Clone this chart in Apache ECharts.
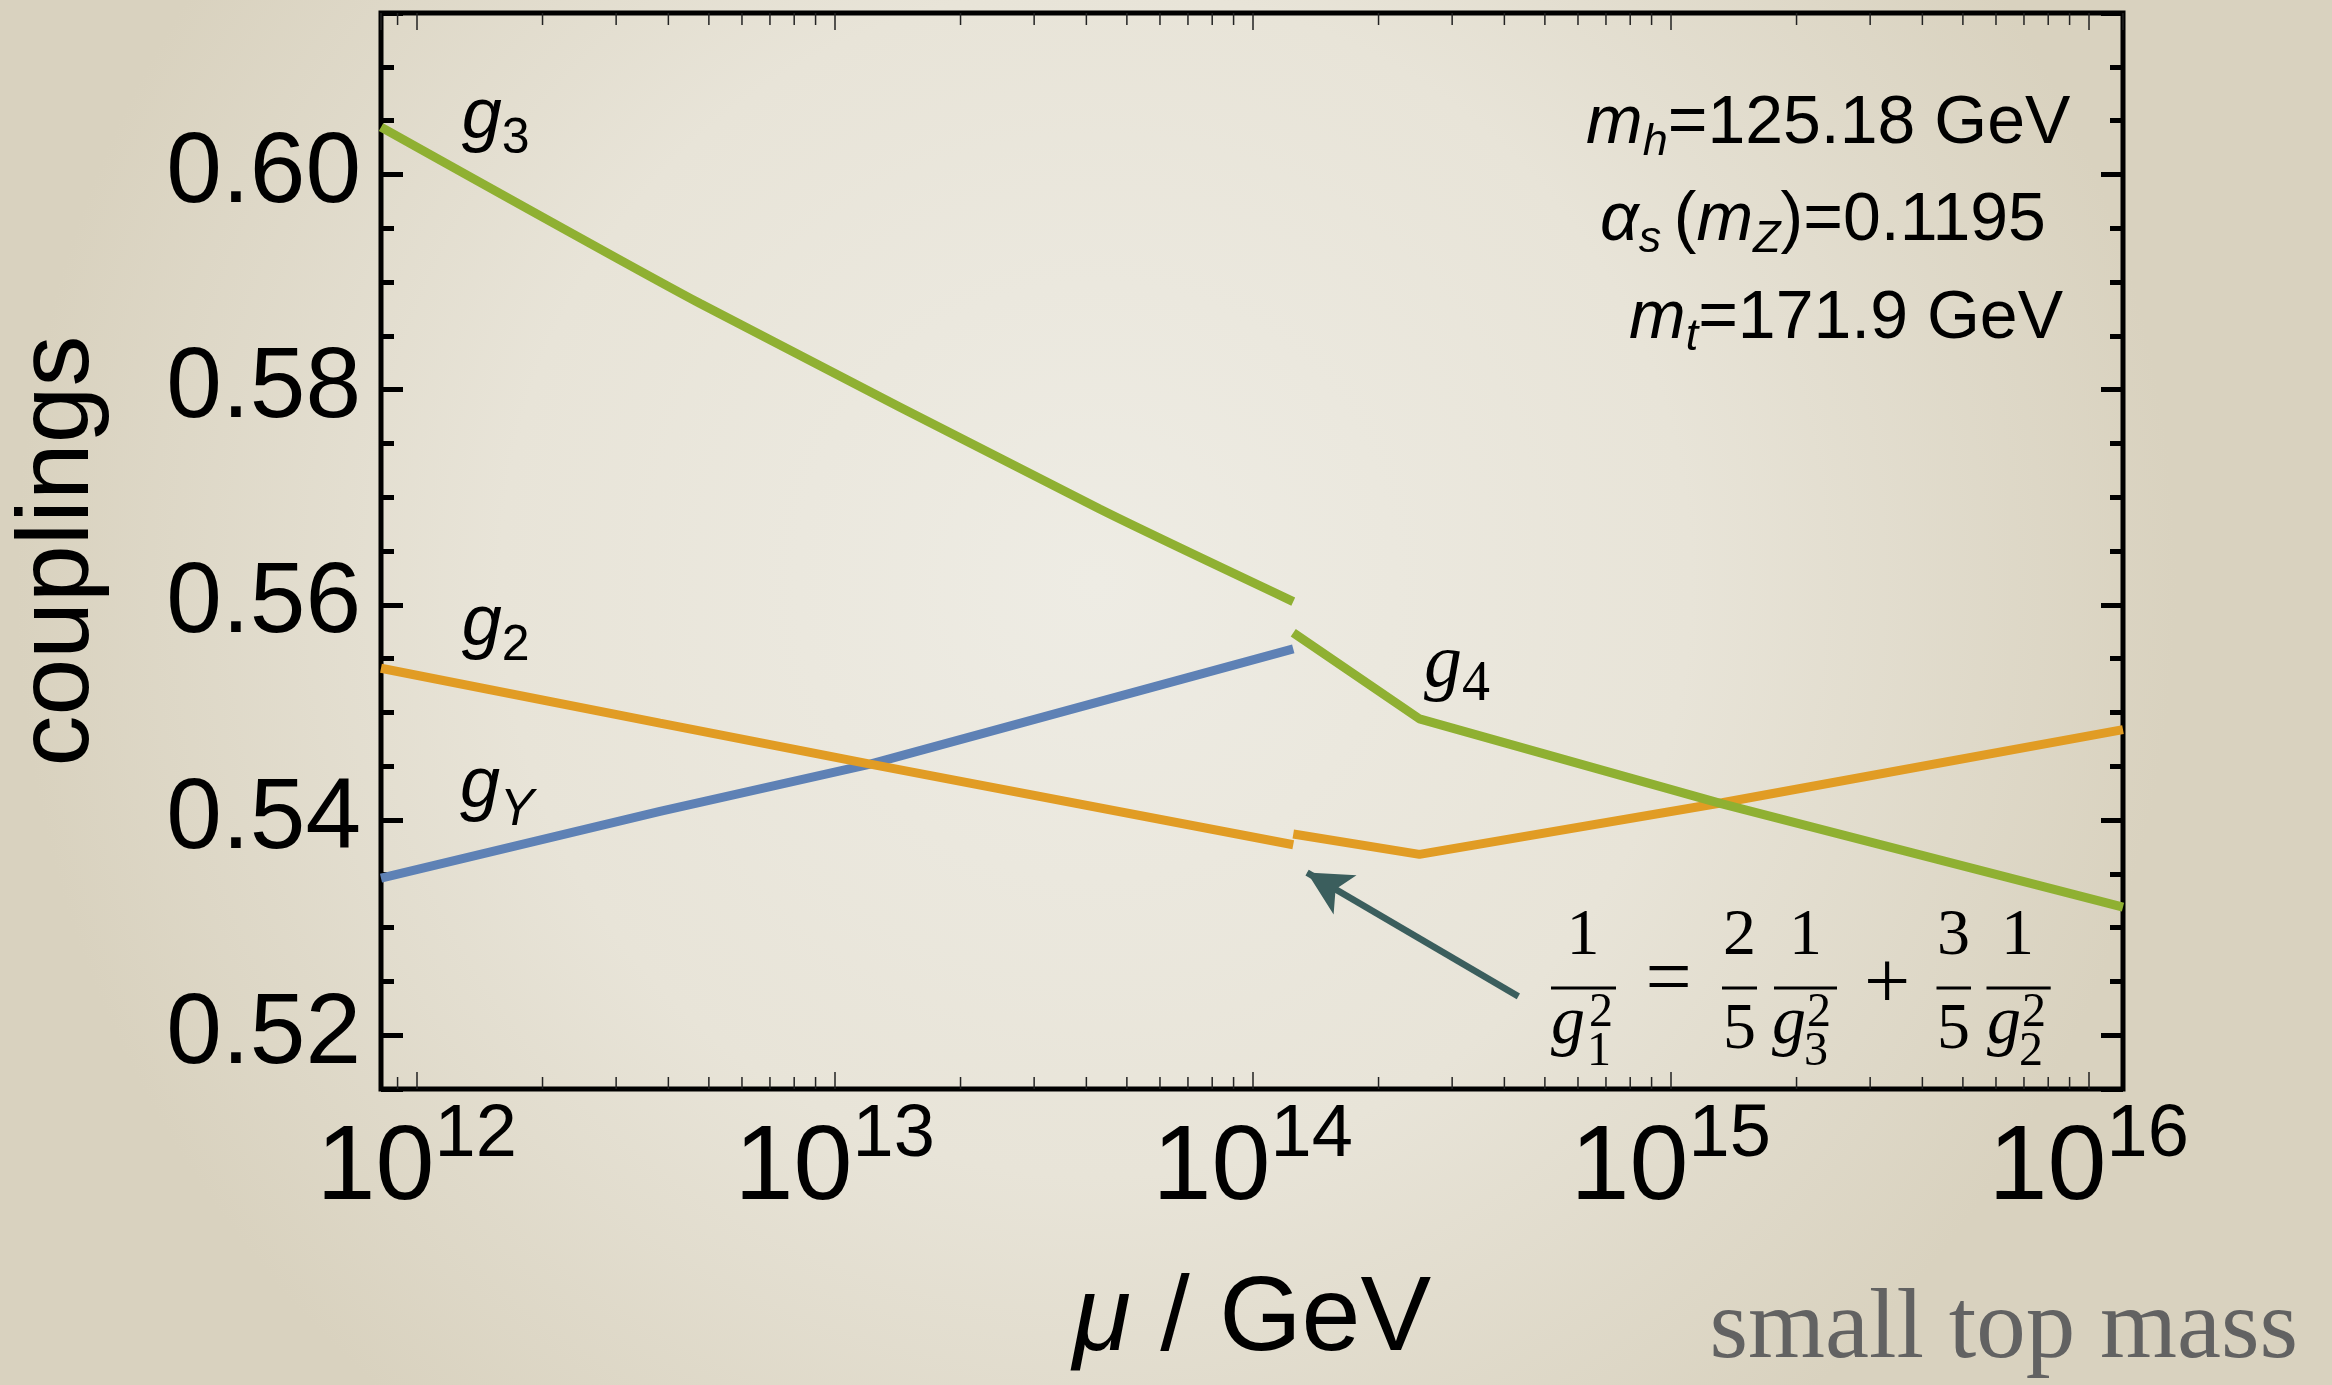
<!DOCTYPE html>
<html>
<head>
<meta charset="utf-8">
<script src="https://cdn.jsdelivr.net/npm/echarts@6/dist/echarts.min.js"></script>
<style>
  html, body { margin: 0; padding: 0; }
  #chart { width: 2332px; height: 1385px; }
</style>
</head>
<body>
<div id="chart"></div>
<script>
// Running gauge couplings between 10^12 and 10^16 GeV (x values are log10(mu / GeV)).
const log10MuGY = [11.9146, 12.582, 13.085, 14.097];
const gY = [0.5346, 0.5408, 0.5452, 0.5559];

const log10MuG2 = [11.9146, 12.582, 13.085, 14.097];
const g2 = [0.5541, 0.5490, 0.5452, 0.5377];
const log10MuG2High = [14.097, 14.399, 15.123, 16.082];
const g2High = [0.5387, 0.5368, 0.5416, 0.5484];

const log10MuG3 = [11.9146, 12.678, 13.634, 14.097];
const g3 = [0.6044, 0.5880, 0.5689, 0.5603];
const log10MuG4 = [14.097, 14.399, 15.123, 16.082];
const g4 = [0.5574, 0.5494, 0.5415, 0.5319];

// axis ranges and decade ticks
const xRange = [11.9146, 16.082];
const yRange = [0.515, 0.615];
const decadeExponents = [11, 12, 13, 14, 15, 16];
const minorFactors = [2, 3, 4, 5, 6, 7, 8, 9];

const SANS = '"Liberation Sans", Arial, Helvetica, sans-serif';
const NARROW = '"Liberation Sans Narrow", "Liberation Sans", Arial, sans-serif';
const SERIF = '"Liberation Serif", "DejaVu Serif", "Times New Roman", serif';

const BLUE = '#5E81B5';
const ORANGE = '#E19C24';
const GREEN = '#8FB032';
const ARROW = '#3B5E5D';
const LINE_W = 9;

const pairs = (xs, ys) => xs.map((x, i) => [x, ys[i]]);

// logarithmic minor tick positions (2..9 x 10^n) inside the x range
const minorTickPositions = [];
decadeExponents.forEach(e => minorFactors.forEach(k => {
  const v = e + Math.log10(k);
  if (v > xRange[0] && v < xRange[1]) minorTickPositions.push(v);
}));

function glyph(text, x, baseline, size, opt) {
  opt = opt || {};
  return {
    type: 'text', x: x, y: baseline - 0.34 * size, silent: true,
    style: {
      text: text,
      font: (opt.italic ? 'italic ' : '') + size + 'px ' + (opt.family || SERIF),
      fill: opt.fill || '#000',
      align: opt.align || 'left',
      verticalAlign: 'middle'
    }
  };
}
function fracBar(x1, x2, y) {
  return { type: 'line', silent: true, shape: { x1: x1, y1: y, x2: x2, y2: y }, style: { stroke: '#000', lineWidth: 3 } };
}
// symbol with subscript as rich text (main glyph italic)
function subLabel(x, baseline, main, sub, opt) {
  const fam = opt.family;
  const F = opt.size, Fs = opt.subSize;
  return {
    type: 'text', x: x, y: baseline - 0.3465 * F, silent: true,
    style: {
      text: '{m|' + main + '}{s|' + sub + '}',
      verticalAlign: 'middle', align: 'left',
      rich: {
        m: { fontFamily: fam, fontStyle: 'italic', fontSize: F, lineHeight: opt.lineHeight, fill: '#000', color: '#000' },
        s: { fontFamily: fam, fontStyle: opt.subItalic ? 'italic' : 'normal', fontSize: Fs, verticalAlign: 'bottom', fill: '#000', color: '#000' }
      }
    }
  };
}
function paramLine(x, baseline, text) {
  return {
    type: 'text', x: x, y: baseline - 0.3465 * 68, silent: true,
    style: {
      text: text, verticalAlign: 'middle', align: 'left',
      rich: {
        i: { fontFamily: SANS, fontStyle: 'italic', fontSize: 68, lineHeight: 82, fill: '#000', color: '#000' },
        r: { fontFamily: SANS, fontSize: 68, lineHeight: 82, fill: '#000', color: '#000' },
        s: { fontFamily: SANS, fontStyle: 'italic', fontSize: 45, verticalAlign: 'bottom', fill: '#000', color: '#000' }
      }
    }
  };
}

const chart = echarts.init(document.getElementById('chart'), null, { renderer: 'canvas' });

const lineBase = { type: 'line', showSymbol: false, symbol: 'none', smooth: false, clip: true, silent: true };

chart.setOption({
  animation: false,
  backgroundColor: {
    type: 'radial', x: 0.47, y: 0.42, r: 0.78,
    colorStops: [
      { offset: 0, color: '#EEECE4' },
      { offset: 0.55, color: '#E8E4D8' },
      { offset: 1, color: '#D9D2BF' }
    ]
  },
  grid: {
    left: 381, top: 13, width: 1742, height: 1076,
    show: true, borderColor: '#000', borderWidth: 5, backgroundColor: 'transparent',
    containLabel: false
  },
  xAxis: [
    {
      type: 'value', position: 'bottom', min: xRange[0], max: xRange[1], splitNumber: 4,
      axisLine: { show: false },
      splitLine: { show: false },
      axisTick: { show: true, inside: true, length: 17, lineStyle: { color: '#222', width: 1.5 } },
      axisLabel: {
        show: true, margin: 10, showMinLabel: false, showMaxLabel: false,
        formatter: v => (Math.abs(v - Math.round(v)) < 1e-6 ? '{b|10}{s|' + Math.round(v) + '}' : ''),
        rich: {
          b: { fontFamily: NARROW, fontSize: 106, lineHeight: 141, color: '#000' },
          s: { fontFamily: NARROW, fontSize: 74, verticalAlign: 'top', color: '#000' }
        }
      },
      name: '{i|μ} / GeV', nameLocation: 'middle', nameGap: 179, nameMoveOverlap: false,
      nameTextStyle: {
        fontFamily: SANS, fontSize: 106, color: '#000',
        rich: { i: { fontFamily: SANS, fontSize: 106, fontStyle: 'italic', color: '#000' } }
      }
    },
    {
      type: 'value', position: 'top', min: xRange[0], max: xRange[1], splitNumber: 4,
      axisLine: { show: false }, splitLine: { show: false }, axisLabel: { show: false },
      axisTick: { show: true, inside: true, length: 17, lineStyle: { color: '#222', width: 1.5 } }
    }
  ],
  yAxis: [
    {
      type: 'value', position: 'left', min: yRange[0], max: yRange[1], splitNumber: 5,
      axisLine: { show: false }, splitLine: { show: false },
      axisTick: { show: true, inside: true, length: 22, lineStyle: { color: '#000', width: 5 } },
      minorTick: { show: true, splitNumber: 4, length: 13, lineStyle: { color: '#000', width: 5 } },
      axisLabel: {
        show: true, margin: 20, showMinLabel: false, showMaxLabel: false,
        formatter: v => v.toFixed(2),
        fontFamily: SANS, fontSize: 100, color: '#000'
      },
      name: 'couplings', nameLocation: 'middle', nameGap: 270, nameRotate: 90, nameMoveOverlap: false,
      nameTextStyle: { fontFamily: SANS, fontSize: 102, color: '#000' }
    },
    {
      type: 'value', position: 'right', min: yRange[0], max: yRange[1], splitNumber: 5,
      axisLine: { show: false }, splitLine: { show: false }, axisLabel: { show: false },
      axisTick: { show: true, inside: true, length: 22, lineStyle: { color: '#000', width: 5 } },
      minorTick: { show: true, splitNumber: 4, length: 13, lineStyle: { color: '#000', width: 5 } }
    }
  ],
  series: [
    Object.assign({}, lineBase, {
      name: 'gY', data: pairs(log10MuGY, gY),
      lineStyle: { color: BLUE, width: LINE_W, cap: 'butt' }
    }),
    Object.assign({}, lineBase, {
      name: 'g2', data: pairs(log10MuG2, g2).concat([['-', '-']], pairs(log10MuG2High, g2High)),
      connectNulls: false,
      lineStyle: { color: ORANGE, width: LINE_W, cap: 'butt' },
      markLine: {
        silent: true, animation: false,
        symbol: ['none', 'arrow'], symbolSize: [34, 44],
        lineStyle: { color: ARROW, width: 6.5, type: 'solid' },
        label: { show: false },
        emphasis: { disabled: true },
        data: [[{ coord: [14.6355, 0.52361] }, { coord: [14.1301, 0.53511] }]]
      }
    }),
    Object.assign({}, lineBase, {
      name: 'g3', data: pairs(log10MuG3, g3), smooth: 0.2,
      lineStyle: { color: GREEN, width: LINE_W, cap: 'butt' }
    }),
    Object.assign({}, lineBase, {
      name: 'g4', data: pairs(log10MuG4, g4),
      lineStyle: { color: GREEN, width: LINE_W, cap: 'butt' }
    }),
    {
      type: 'custom', name: 'minorTicks', silent: true, clip: false, z: 4,
      xAxisIndex: 0, yAxisIndex: 0,
      data: minorTickPositions.map(v => [v, yRange[0]]),
      encode: { x: 0, y: 1 },
      renderItem: function (params, api) {
        const cs = params.coordSys;
        const px = api.coord([api.value(0), api.value(1)])[0];
        const yb = cs.y + cs.height, yt = cs.y;
        return {
          type: 'group',
          children: [
            { type: 'line', shape: { x1: px, y1: yb, x2: px, y2: yb - 12 }, style: { stroke: '#222', lineWidth: 1.5 } },
            { type: 'line', shape: { x1: px, y1: yt, x2: px, y2: yt + 12 }, style: { stroke: '#222', lineWidth: 1.5 } }
          ]
        };
      }
    }
  ],
  graphic: [
    // curve labels
    subLabel(461.7, 143, 'g', '3', { family: SANS, size: 72, subSize: 50, lineHeight: 92 }),
    subLabel(461.7, 650, 'g', '2', { family: SANS, size: 72, subSize: 50, lineHeight: 92 }),
    subLabel(460, 812, 'g', 'Y', { family: SANS, size: 72, subSize: 51, lineHeight: 98, subItalic: true }),
    subLabel(1424, 692, 'g', '4', { family: SERIF, size: 76, subSize: 56, lineHeight: 96 }),
    // parameter block
    paramLine(1586, 148, '{i|m}{s|h}{r|=125.18 GeV}'),
    paramLine(1600, 245, '{i|α}{s|s }{r|(}{i|m}{s|Z}{r|)=0.1195}'),
    paramLine(1629, 343, '{i|m}{s|t}{r|=171.9 GeV}'),
    // 1/g1^2 = 2/5 1/g3^2 + 3/5 1/g2^2
    {
      type: 'group', silent: true,
      children: [
        glyph('1', 1583, 959, 66, { align: 'center' }),
        fracBar(1551, 1616, 988),
        glyph('g', 1551, 1048, 68, { italic: true }),
        glyph('1', 1587, 1069, 48),
        glyph('2', 1589, 1030, 48),
        glyph('=', 1668.7, 1010, 82, { align: 'center' }),
        glyph('2', 1739.5, 959, 66, { align: 'center' }),
        fracBar(1722, 1757, 988),
        glyph('5', 1739.5, 1053, 66, { align: 'center' }),
        glyph('1', 1805.5, 959, 66, { align: 'center' }),
        fracBar(1774, 1837, 988),
        glyph('g', 1772, 1048, 68, { italic: true }),
        glyph('3', 1804, 1069, 48),
        glyph('2', 1807, 1030, 48),
        glyph('+', 1887, 1014, 82, { align: 'center' }),
        glyph('3', 1953.5, 959, 66, { align: 'center' }),
        fracBar(1936.5, 1971, 988),
        glyph('5', 1953.5, 1053, 66, { align: 'center' }),
        glyph('1', 2017.5, 959, 66, { align: 'center' }),
        fracBar(1986.5, 2050.7, 988),
        glyph('g', 1987, 1048, 68, { italic: true }),
        glyph('2', 2019, 1069, 48),
        glyph('2', 2022, 1030, 48)
      ]
    },
    glyph('small top mass', 2298, 1365, 99, { align: 'right', fill: '#626262' })
  ]
});
</script>
</body>
</html>
